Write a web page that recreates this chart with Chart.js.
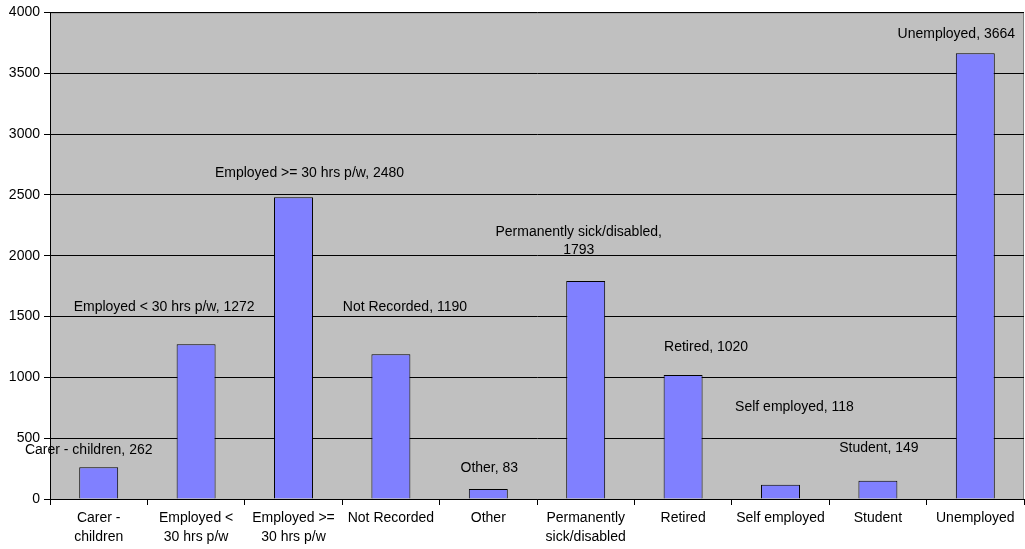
<!DOCTYPE html>
<html>
<head>
<meta charset="utf-8">
<script src="https://cdn.jsdelivr.net/npm/chart.js@4"></script>
<style>
  html, body { margin: 0; padding: 0; background: #fff; }
  #wrap { width: 1025px; height: 549px; }
</style>
</head>
<body>
<div id="wrap"><canvas id="bars" width="1025" height="549"></canvas></div>
<script>
var categories = [
  ["Carer -", "children"],
  ["Employed <", "30 hrs p/w"],
  ["Employed >=", "30 hrs p/w"],
  "Not Recorded",
  "Other",
  ["Permanently", "sick/disabled"],
  "Retired",
  "Self employed",
  "Student",
  "Unemployed"
];
var labelNames = [
  "Carer - children", "Employed < 30 hrs p/w", "Employed >= 30 hrs p/w",
  "Not Recorded", "Other", "Permanently sick/disabled", "Retired",
  "Self employed", "Student", "Unemployed"
];
var counts = [262, 1272, 2480, 1190, 83, 1793, 1020, 118, 149, 3664];
var yTicks = [0, 500, 1000, 1500, 2000, 2500, 3000, 3500, 4000];

// where each data label sits relative to the top of its bar (px)
var labelOffsets = [
  [-10, -17], [-32, -37], [16, -24], [14, -47], [1, -21],
  [-7, -40], [23, -28], [14, -78], [1, -33], [-19, -19]
];

var FONT = "'Liberation Sans', Arial, sans-serif";

var backdrop = {
  id: "backdrop",
  beforeDraw: function (chart) {
    var c = chart.ctx, a = chart.chartArea;
    c.save();
    c.fillStyle = "#C0C0C0";
    c.fillRect(a.left, a.top, a.right - a.left, a.bottom - a.top);
    c.strokeStyle = "#808080";
    c.lineWidth = 1;
    c.beginPath();
    c.moveTo(a.left, a.top + 0.5);
    c.lineTo(a.right - 0.5, a.top + 0.5);
    c.lineTo(a.right - 0.5, a.bottom);
    c.stroke();
    c.restore();
  }
};

var dataLabels = {
  id: "dataLabels",
  afterDatasetsDraw: function (chart) {
    var c = chart.ctx;
    var meta = chart.getDatasetMeta(0);
    c.save();
    c.font = "14px " + FONT;
    c.fillStyle = "#000";
    c.textAlign = "center";
    c.textBaseline = "middle";
    meta.data.forEach(function (bar, i) {
      var x = bar.x + labelOffsets[i][0];
      var y = bar.y + labelOffsets[i][1];
      if (i === 5) {
        c.fillText(labelNames[i] + ",", x, y - 9);
        c.fillText(String(counts[i]), x, y + 9);
      } else {
        c.fillText(labelNames[i] + ", " + counts[i], x, y);
      }
    });
    c.restore();
  }
};

var ctx = document.getElementById("bars").getContext("2d");
var chart = new Chart(ctx, {
  type: "bar",
  data: {
    labels: categories,
    datasets: [
      {
        label: "Count",
        data: counts,
        backgroundColor: "#8080FF",
        borderColor: "#000000",
        borderWidth: 1,
        barPercentage: 0.4,
        categoryPercentage: 1.0
      }
    ]
  },
  options: {
    responsive: false,
    animation: false,
    layout: { padding: { top: 11, right: 1, left: 0, bottom: 0 } },
    plugins: {
      legend: { display: false },
      tooltip: { enabled: false }
    },
    scales: {
      x: {
        grid: {
          offset: true,
          drawOnChartArea: false,
          color: "#000",
          tickLength: 6
        },
        border: { color: "#000" },
        ticks: {
          color: "#000",
          maxRotation: 0,
          autoSkip: false,
          padding: 4,
          font: { family: FONT, size: 14, lineHeight: 1.35 }
        },
        afterFit: function (s) { s.height = 50; }
      },
      y: {
        min: 0,
        max: 4000,
        afterBuildTicks: function (s) {
          s.ticks = yTicks.map(function (v) { return { value: v }; });
        },
        grid: {
          color: "#000",
          tickLength: 6
        },
        border: { color: "#000" },
        ticks: {
          color: "#000",
          padding: 4,
          font: { family: FONT, size: 14 },
          callback: function (v) { return String(v); }
        },
        afterFit: function (s) { s.width = 50; }
      }
    }
  },
  plugins: [backdrop, dataLabels]
});
</script>
</body>
</html>
